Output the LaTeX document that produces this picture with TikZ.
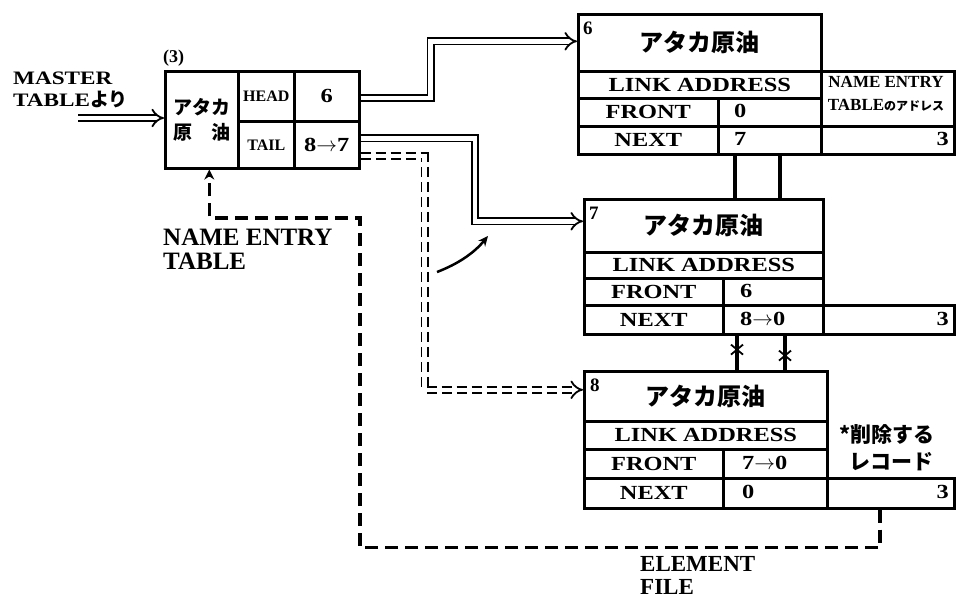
\documentclass[tikz,border=0pt]{standalone}
\usepackage{fontspec}
\setmainfont{Liberation Serif}
\newfontfamily\lat{Liberation Serif}[FakeStretch=1.22]
\newfontfamily\latn{Liberation Serif}
\newfontfamily\jp{Noto Sans CJK JP}
\usetikzlibrary{arrows.meta,calc}
\tikzset{
  cell/.style={draw, line width=2.6pt, inner sep=0pt, anchor=north west},
  tl/.style={font=\lat\bfseries\fontsize{20}{20}\selectfont},
  hl/.style={font=\latn\bfseries\fontsize{16}{16}\selectfont},
  jt/.style={font=\jp\bfseries\fontsize{24}{24}\selectfont},
  nb/.style={font=\latn\bfseries\fontsize{19}{19}\selectfont, anchor=base west, inner sep=0pt},
  val/.style={font=\lat\bfseries\fontsize{20}{20}\selectfont, anchor=west, inner sep=0pt},
  dbl/.style={double, double distance=4.5pt, line width=1.8pt, -{Implies}},
  dsh/.style={line width=3.4pt, dash pattern=on 13pt off 7pt},
  lnk/.style={line width=4pt},
  big/.style={font=\latn\bfseries\fontsize{25}{25}\selectfont, anchor=base west, inner sep=0pt, text height=17pt, text depth=0pt},
  sml/.style={font=\lat\bfseries\fontsize{19}{19}\selectfont, anchor=base west, inner sep=0pt},
}
\begin{document}
\begin{tikzpicture}[x=1pt,y=-1pt]
\useasboundingbox (0,0) rectangle (959,601);
\fill[white] (0,0) rectangle (959,601);

% ---------- master (NAME ENTRY TABLE) record ----------
\node[cell, minimum width=73pt, minimum height=97pt, align=center,
      font=\jp\bfseries\fontsize{19}{25}\selectfont] (mn) at (164,70) {アタカ\\原　油};
\node[cell, minimum width=56pt, minimum height=50pt, hl] (mhl) at (237,70) {HEAD};
\node[cell, minimum width=65pt, minimum height=50pt, tl] (mhv) at (293,70) {6};
\node[cell, minimum width=56pt, minimum height=47pt, hl] (mtl) at (237,120) {TAIL};
\node[cell, minimum width=65pt, minimum height=47pt, tl] (mtv) at (293,120) {8$\rightarrow$7};

\node[sml] (mast1) at (13,85) {MASTER};
\node[sml] (mast2) at (13,107) {TABLE{\jp\bfseries より}};
\node[font=\latn\bfseries\fontsize{18}{18}\selectfont, anchor=base west, inner sep=0pt] (three) at (163,63) {(3)};
\node[big] (net1) at (163,246) {NAME ENTRY};
\node[big] (net2) at (163,270) {TABLE};

% ---------- record 6 ----------
\node[cell, minimum width=243pt, minimum height=57pt, jt] (r6h) at (577,13) {アタカ原油};
\node[cell, minimum width=243pt, minimum height=27pt, tl] (r6l) at (577,70) {LINK ADDRESS};
\node[cell, minimum width=140pt, minimum height=28pt, tl] (r6fl) at (577,97) {FRONT};
\node[cell, minimum width=103pt, minimum height=28pt] (r6fv) at (717,97) {};
\node[cell, minimum width=140pt, minimum height=28pt, tl] (r6nl) at (577,125) {NEXT};
\node[cell, minimum width=103pt, minimum height=28pt] (r6nv) at (717,125) {};
\node[cell, minimum width=133pt, minimum height=55pt] (r6e1) at (820,70) {};
\node[cell, minimum width=133pt, minimum height=28pt] (r6e2) at (820,125) {};
\node[nb] (r6n) at (583,35) {6};
\node[val] (r6f) at (734,111) {0};
\node[val] (r6x) at (734,139) {7};
\node[val, anchor=east] (r6a) at (949,139) {3};
\node[align=center, inner sep=0pt, font=\latn\bfseries\fontsize{17}{23}\selectfont] (r6et) at (886,94)
  {NAME ENTRY\\TABLE{\jp\bfseries\fontsize{12}{12}\selectfont のアドレス}};

% ---------- record 7 ----------
\node[cell, minimum width=239pt, minimum height=53pt, jt] (r7h) at (583,198) {アタカ原油};
\node[cell, minimum width=239pt, minimum height=26pt, tl] (r7l) at (583,251) {LINK ADDRESS};
\node[cell, minimum width=139pt, minimum height=27pt, tl] (r7fl) at (583,277) {FRONT};
\node[cell, minimum width=100pt, minimum height=27pt] (r7fv) at (722,277) {};
\node[cell, minimum width=139pt, minimum height=29pt, tl] (r7nl) at (583,304) {NEXT};
\node[cell, minimum width=100pt, minimum height=29pt] (r7nv) at (722,304) {};
\node[cell, minimum width=131pt, minimum height=29pt] (r7e) at (822,304) {};
\node[nb] (r7n) at (589,220) {7};
\node[val] (r7f) at (740,290.5) {6};
\node[val] (r7x) at (740,318.5) {8$\rightarrow$0};
\node[val, anchor=east] (r7a) at (949,318.5) {3};

% ---------- record 8 ----------
\node[cell, minimum width=243pt, minimum height=50pt, jt] (r8h) at (583,370) {アタカ原油};
\node[cell, minimum width=243pt, minimum height=28pt, tl] (r8l) at (583,420) {LINK ADDRESS};
\node[cell, minimum width=139pt, minimum height=29pt, tl] (r8fl) at (583,448) {FRONT};
\node[cell, minimum width=104pt, minimum height=29pt] (r8fv) at (722,448) {};
\node[cell, minimum width=139pt, minimum height=30pt, tl] (r8nl) at (583,477) {NEXT};
\node[cell, minimum width=104pt, minimum height=30pt] (r8nv) at (722,477) {};
\node[cell, minimum width=127pt, minimum height=30pt] (r8e) at (826,477) {};
\node[nb] (r8n) at (590,392) {8};
\node[val] (r8f) at (742,462.5) {7$\rightarrow$0};
\node[val] (r8x) at (742,492) {0};
\node[val, anchor=east] (r8a) at (949,492) {3};
\node[font=\jp\bfseries\fontsize{21}{21}\selectfont, inner sep=0pt] (del1) at (887,435) {*削除する};
\node[font=\jp\bfseries\fontsize{21}{21}\selectfont, inner sep=0pt] (del2) at (891,462) {レコード};

\node[big, font=\latn\bfseries\fontsize{23}{23}\selectfont] (el1) at (640,571) {ELEMENT};
\node[big, font=\latn\bfseries\fontsize{23}{23}\selectfont] (el2) at (640,594) {FILE};

% ---------- connectors ----------
\coordinate (inA) at (78,118);
\draw[dbl] (inA) -- (inA -| mn.west);
\draw[dbl] ([yshift=-1.5pt]mhv.east) -- ++(70,0) |- ([yshift=1.5pt]r6h.west);
\draw[dbl] ([yshift=6.5pt]mtv.east) -- ++(114.5,0) |- ([yshift=4.5pt]r7h.west);
\draw[dbl, dash pattern=on 10pt off 5pt] ([yshift=-11pt]mtv.east) -- ++(64,0) |- ([yshift=6.5pt]r8h.west);

% links between records
\draw[lnk] ($(r6nv.south west)+(18,0)$) -- ($(r6nv.south west |- r7h.north)+(18,0)$);
\draw[lnk] ($(r6nv.south west)+(63,0)$) -- ($(r6nv.south west |- r7h.north)+(63,0)$);
\draw[lnk] ($(r7nv.south west)+(15,0)$) -- ($(r7nv.south west |- r8h.north)+(15,0)$);
\draw[lnk] ($(r7nv.south west)+(63,0)$) -- ($(r7nv.south west |- r8h.north)+(63,0)$);
\coordinate (xa) at ($(r7nv.south west)+(15,14)$);
\coordinate (xb) at ($(r7nv.south west)+(63,20)$);
\draw[line width=1.8pt] (xa) ++(-6,-5) -- ++(12,10) (xa) ++(-6,5) -- ++(12,-10);
\draw[line width=1.8pt] (xb) ++(-6,-5) -- ++(12,10) (xb) ++(-6,5) -- ++(12,-10);

% element file pointer back to name entry table
\coordinate (bnd) at (360,218);
\draw[dsh, -{Stealth[length=10pt,width=10pt]}] ($(r8e.south west)+(54,0)$) -- ++(0,38) -| (bnd) -| ($(mn.south)+(7.5,0)$);

% small curved arrow
\coordinate (cva) at (437,272);
\coordinate (cvb) at (488,236);
\draw[line width=2.5pt, -{Stealth[length=10pt,width=9pt]}] (cva) .. controls (458,264) and (474,253) .. (cvb);
\end{tikzpicture}
\end{document}
